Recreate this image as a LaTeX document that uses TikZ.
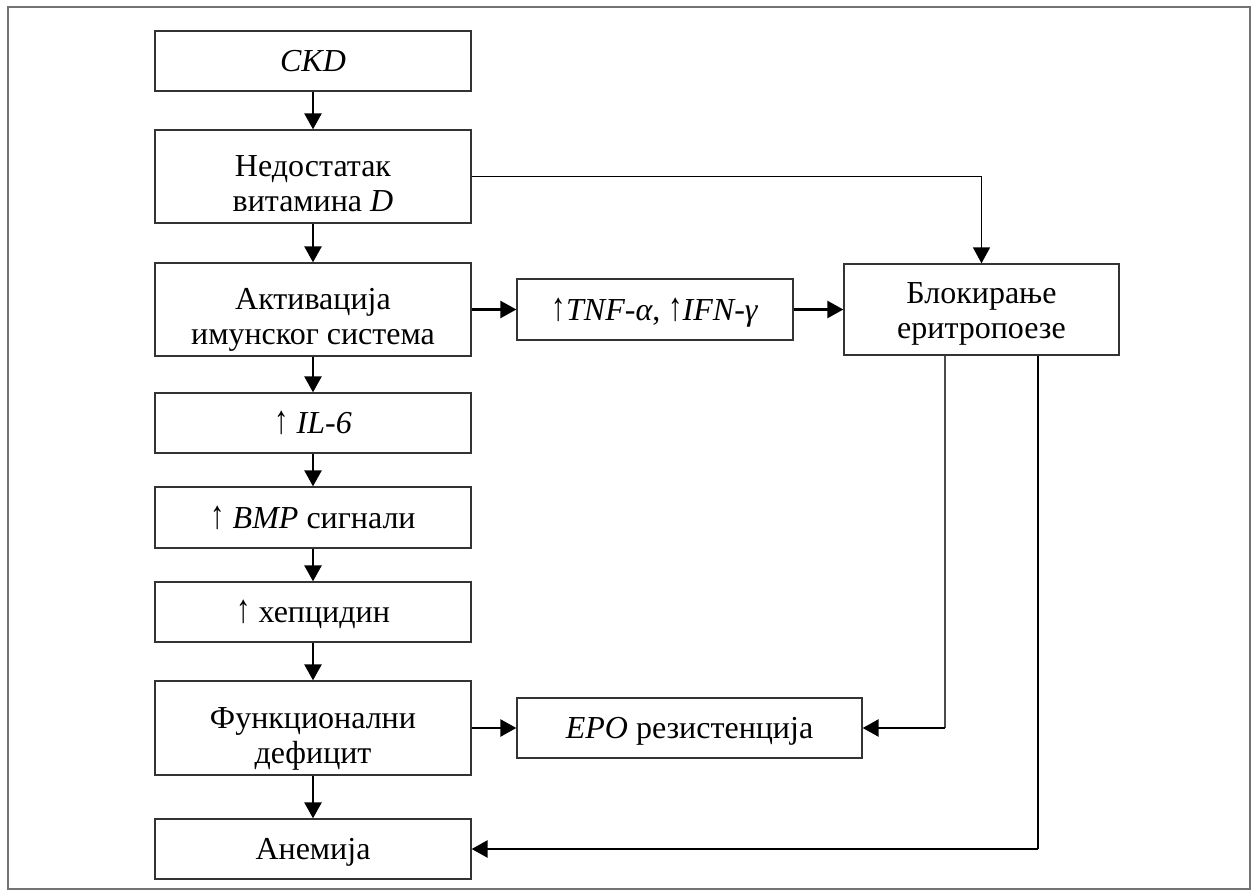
\documentclass[tikz,border=0pt]{standalone}
\usepackage{fontspec}
\setmainfont{Liberation Serif}
\usetikzlibrary{arrows.meta, positioning, calc}
\newcommand\uparr{\scalebox{0.9}[1.25]{↑}}

\begin{document}
\begin{tikzpicture}[x=1pt, y=-1pt, font=\fontsize{32}{35}\selectfont, align=center,
    box/.style={draw=black!80, line width=1.3pt, minimum width=316pt, minimum height=60pt, inner sep=0pt, align=center, text height=21pt, text depth=0pt},
    twoline/.style={minimum height=93pt, text height=70pt, text depth=0pt},
    arrow/.style={-{Triangle[length=16pt,width=17pt]}, line width=2.6pt},
    thinarrow/.style={-{Triangle[length=16pt,width=17pt]}, line width=1.4pt}
]
    \useasboundingbox (0,0) rectangle (1258,896);
    \draw[black!55, line width=2pt] (8,7) rectangle (1250,889);
    % left column
    \node[box] (ckd) at (313,61) {\textit{CKD}};
    \node[box, twoline] (vitd) at (313,176.5) {Недостатак\\витамина \textit{D}};
    \node[box, twoline] (akt) at (313,309.5) {Активација\\имунског система};
    \node[box] (il6) at (313,423) {\uparr\ \textit{IL-6}};
    \node[box, minimum height=61pt] (bmp) at (313,517.5) {\uparr\ \textit{BMP} сигнали};
    \node[box] (hep) at (313,612) {\uparr\ хепцидин};
    \node[box, twoline, minimum height=94pt] (fun) at (313,728) {Функционални\\дефицит};
    \node[box] (anem) at (313,849) {Анемија};
    % middle and right
    \node[box, minimum width=276pt, minimum height=61pt] (tnf) at (655,309.5) {\uparr\textit{TNF-α}, \uparr\textit{IFN-γ}};
    \node[box, minimum width=345pt] (epo) at (689.5,728) {\textit{EPO} резистенција};
    \node[box, twoline, minimum width=275pt, minimum height=91pt, text height=58pt] (blok) at (981.5,309.5) {Блокирање\\еритропоезе};
    \coordinate (k1) at (945,728);
    \coordinate (k2) at (1038,849);
    \draw[arrow] (ckd) -- (vitd);
    \draw[arrow] (vitd) -- (akt);
    \draw[arrow] (akt) -- (il6);
    \draw[arrow] (il6) -- (bmp);
    \draw[arrow] (bmp) -- (hep);
    \draw[arrow] (hep) -- (fun);
    \draw[arrow] (fun) -- (anem);
    \draw[arrow] (akt) -- (tnf);
    \draw[arrow] (tnf) -- (blok);
    \draw[arrow] (fun) -- (epo);
    \draw[thinarrow] (vitd.east) -| (blok.north);
    \draw[line width=1.3pt, black!70] (blok.south -| k1) -- (k1);
    \draw[arrow] (k1) -- (epo.east);
    \draw[line width=1.8pt] (blok.south -| k2) -- (k2);
    \draw[arrow] (k2) -- (anem.east);
\end{tikzpicture}
\end{document}
